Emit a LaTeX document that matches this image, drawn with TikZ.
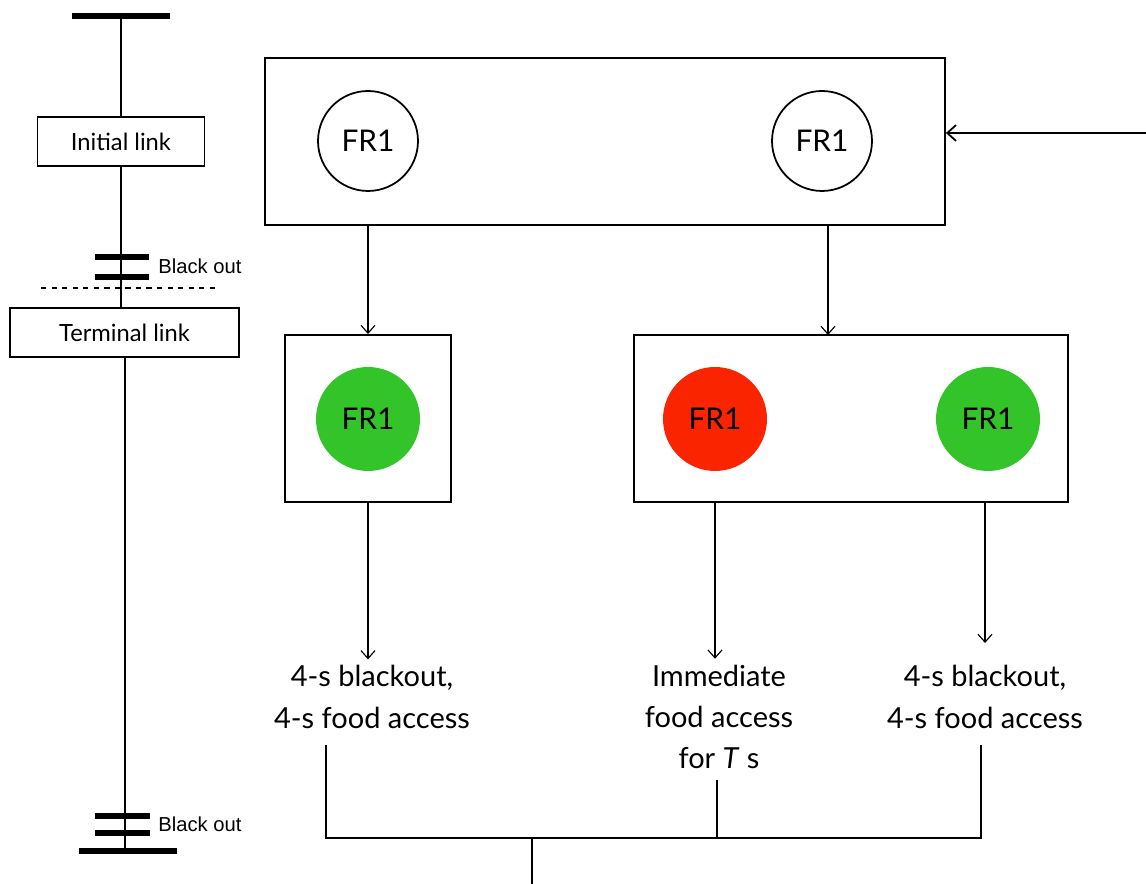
\documentclass[tikz,border=0pt]{standalone}
\usepackage{fontspec}
\setmainfont{Lato}
\newfontfamily\helv{Liberation Sans}
\usetikzlibrary{arrows.meta, positioning}
\definecolor{frgreen}{RGB}{50,196,40}
\definecolor{frred}{RGB}{250,36,0}

\begin{document}
\begin{tikzpicture}[
        x=0.02cm, y=-0.02cm,
        link/.style={draw, line width=0.7pt, rectangle, minimum height=0.98cm, align=center, font=\fontsize{13.5}{16}\selectfont},
        group/.style={draw, line width=1.1pt, rectangle, minimum height=3.34cm},
        fr/.style={draw, circle, minimum size=2cm, inner sep=0pt, line width=1pt, font=\fontsize{17}{20}\selectfont},
        outcome/.style={align=center, font=\fontsize{16.5}{23.5}\selectfont},
        bar/.style={line width=3pt},
        blk/.style={anchor=west, inner sep=0pt, font=\helv\fontsize{11.5}{13}\selectfont},
        wire/.style={line width=1.15pt},
        arrow/.style={-{Straight Barb[length=4.5pt,width=8pt]}, line width=0.65pt}
    ]
        \useasboundingbox (0,0) rectangle (1146,884);

        % Nodes
        \node (initial) [link, minimum width=3.34cm] at (121,141.5) {Initial link};
        \node (terminal) [link, minimum width=4.58cm] at (124.5,332.5) {Terminal link};

        \node (choice) [group, minimum width=13.6cm] at (605,141.5) {};
        \node (frA) [fr] at (368,141) {FR1};
        \node (frB) [fr] at (822,141) {FR1};

        \node (single) [group, minimum width=3.32cm] at (368,418.5) {};
        \node (frC) [fr, draw=none, fill=frgreen, minimum size=2.08cm] at (368,419) {FR1};

        \node (pair) [group, minimum width=8.68cm] at (851,418.5) {};
        \node (frD) [fr, draw=none, fill=frred, minimum size=2.08cm] at (715,419) {FR1};
        \node (frE) [fr, draw=none, fill=frgreen, minimum size=2.08cm] at (988,419) {FR1};

        \node (outL) [outcome] at (372,697) {4-s blackout,\\4-s food access};
        \node (outM) [outcome] at (719,717) {Immediate\\food access\\for \textit{T} s};
        \node (outR) [outcome] at (985,697) {4-s blackout,\\4-s food access};

        \coordinate (top) at (121,16);
        \coordinate (base) at (125,851);
        \coordinate (entry) at (1146,133);
        \coordinate (joinL) at (326,745);
        \coordinate (joinM) at (717,780);
        \coordinate (joinR) at (981,745);
        \coordinate (join) at (532,838);
        \coordinate (exit) at (532,884);

        % Schedule line
        \draw [bar] (72,16) -- (170,16);
        \draw [wire] (top) -- (initial.north);
        \draw [wire] (initial.south) -- (initial.south |- terminal.north);
        \draw [wire] (terminal.south -| base) -- (base);
        \draw [bar] (95,257) -- (149,257);
        \draw [bar] (95,277) -- (149,277);
        \node (bo1) [blk] at (158,266) {Black out};
        \draw [dashed, line width=0.8pt] (41,288) -- (215,288);
        \draw [bar] (95,816) -- (150,816);
        \draw [bar] (95,833) -- (150,833);
        \draw [line width=3.5pt] (79,851) -- (177,851);
        \node (bo2) [blk] at (158,824) {Black out};

        % Paths
        \draw [-{Straight Barb[length=5pt,width=9pt]}, line width=1pt] (entry) -- (choice.east |- entry);
        \draw [arrow] (frA |- choice.south) -- (frA |- single.north);
        \draw [arrow] (828,225) -- (828,335);
        \draw [arrow] (frC |- single.south) -- (outL.north -| frC);
        \draw [arrow] (frD |- pair.south) -- (outM.north -| frD);
        \draw [arrow] (985,502) -- (985,643);

        % Outcomes joined
        \draw [wire] (joinL) -- (joinL |- join) -- (joinR |- join) -- (joinR);
        \draw [wire] (joinM) -- (joinM |- join);
        \draw [wire] (join) -- (exit);
    \end{tikzpicture}
\end{document}
